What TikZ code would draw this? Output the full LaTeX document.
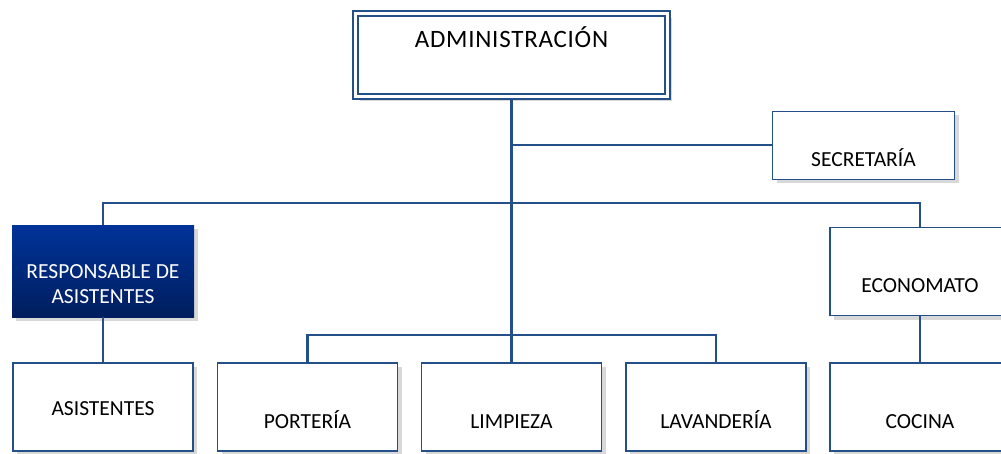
\documentclass[tikz,border=0pt]{standalone}
\usepackage{fontspec}
\setmainfont{Carlito}
\usetikzlibrary{calc,shadows}
\definecolor{linec}{HTML}{24508A}
\definecolor{gradtop}{HTML}{003399}
\definecolor{gradbot}{HTML}{001E5E}
\tikzset{
  ln/.style={linec,line width=2.8pt},
  shd/.style={drop shadow={shadow xshift=4pt,shadow yshift=-4pt,fill=black!30}},
  unit/.style={shd,draw=linec,line width=1.8pt,fill=white,minimum width=180pt,minimum height=88pt,inner sep=0pt,font=\fontsize{21.5}{25}\selectfont},
  low/.style={text height=42pt,text depth=0pt},
  mid/.style={text height=16pt,text depth=0pt}
}

\begin{document}
\begin{tikzpicture}[x=1pt,y=-1pt]
\clip (0,0) rectangle (1001,453);
\node[unit,double=white,line width=2pt,double distance=2.6pt,minimum width=312pt,minimum height=83pt,font=\fontsize{25}{29}\selectfont\addfontfeature{LetterSpace=3},text height=14pt,text depth=30pt] (admin) at (511.5,55) {ADMINISTRACIÓN};
\node[unit,low,line width=1pt,minimum width=182pt,minimum height=68pt] (secr) at (863.5,145) {SECRETARÍA};
\node[shd,top color=gradtop,bottom color=gradbot,text=white,minimum width=182pt,minimum height=92pt,inner sep=0pt,align=center,font=\fontsize{21.5}{25}\selectfont,text height=64pt,text depth=0pt] (resp) at (103,271) {RESPONSABLE DE\\ASISTENTES};
\node[unit,low] (econ) at (920,271.5) {ECONOMATO};
\node[unit,mid] (asis) at (103,407) {ASISTENTES};
\node[unit,low] (port) at (307.5,407) {PORTERÍA};
\node[unit,low] (limp) at (511.5,407) {LIMPIEZA};
\node[unit,low] (lav) at (716,407) {LAVANDERÍA};
\node[unit,low] (coc) at (920,407) {COCINA};
\coordinate (busA) at (511.5,203);
\coordinate (busB) at (511.5,335);
\draw[ln] (admin) -- (limp);
\draw[ln] (admin.south |- secr.west) -- (secr.west);
\draw[ln] (resp.north) |- (busA) -| (econ.north);
\draw[ln] (port.north) |- (busB) -| (lav.north);
\draw[ln] (resp) -- (asis);
\draw[ln] (econ) -- (coc);
\end{tikzpicture}
\end{document}
